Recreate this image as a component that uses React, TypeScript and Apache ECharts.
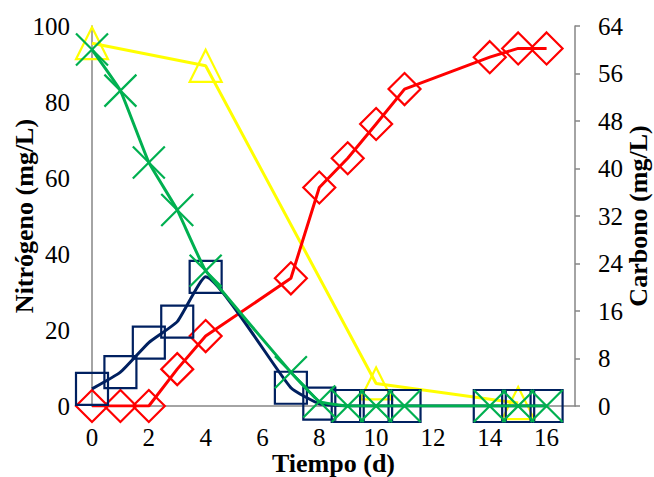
import React, { useEffect, useRef } from "react";
import * as echarts from "echarts";

// Sampling days
const diasN = [0, 1, 2, 3, 4, 7, 8, 9, 10, 11, 14, 15, 16];
const diasC = [0, 4, 10, 15];

// Nitrogen species (mg/L, left axis)
const nitrato = [0, 0, 0, 9.7, 18.4, 33.6, 57.5, 65.2, 74.2, 83.4, 91.8, 94.1, 94.1];
const nitrito = [4.5, 8.9, 16.7, 22.2, 34.0, 4.8, 0.6, 0, 0, 0, 0, 0, 0];
const amonio = [93.8, 83.0, 64.1, 51.6, 35.6, 8.9, 1.2, 0, 0, 0, 0, 0, 0];

// Carbon (mg/L, right axis)
const carbono = [61.1, 57.3, 3.8, 0.5];

const FONT = "'Liberation Serif', 'Times New Roman', serif";
const AXIS_GRAY = "#868686";

const pairs = (xs: number[], ys: number[]) => xs.map((x, i) => [x, ys[i]]);

const X_SYMBOL = "path://M0,0L10,10M10,0L0,10";

export default function App() {
  const ref = useRef<HTMLDivElement>(null);

  useEffect(() => {
    if (!ref.current) return;
    const chart = echarts.init(ref.current, null, { renderer: "svg" });

    const tickLabel = { fontFamily: FONT, fontSize: 25, color: "#000" };
    const nameStyle = { fontFamily: FONT, fontSize: 26, fontWeight: "bold", color: "#000" };

    const lineSeries = (
      name: string,
      data: number[][],
      color: string,
      symbol: string,
      yAxisIndex: number,
      smooth: number | boolean,
      z: number
    ) => ({
      name,
      type: "line",
      yAxisIndex,
      data,
      smooth,
      symbol,
      symbolSize: 32,
      showAllSymbol: true,
      z,
      lineStyle: { color, width: 3 },
      itemStyle: { color: "none", borderColor: color, borderWidth: 2.2 },
      emphasis: { disabled: true },
    });

    chart.setOption({
      animation: false,
      grid: {
        left: 92,
        right: 79,
        top: 26,
        bottom: 71,
        containLabel: false,
        outerBoundsMode: "none",
      },
      xAxis: {
        type: "value",
        min: 0,
        max: 17,
        interval: 2,
        name: "Tiempo (d)",
        nameLocation: "middle",
        nameGap: 44,
        nameMoveOverlap: false,
        nameTextStyle: nameStyle,
        axisLine: { show: true, onZero: false, lineStyle: { color: AXIS_GRAY, width: 1.5 } },
        axisTick: { show: false },
        splitLine: { show: false },
        axisLabel: {
          ...tickLabel,
          margin: 19,
          formatter: (v: number) => (v > 16 ? "" : String(v)),
        },
      },
      yAxis: [
        {
          type: "value",
          min: 0,
          max: 100,
          interval: 20,
          position: "left",
          name: "Nitrógeno (mg/L)",
          nameLocation: "middle",
          nameGap: 55,
          nameRotate: 90,
          nameMoveOverlap: false,
          nameTextStyle: nameStyle,
          axisLine: { show: true, onZero: false, lineStyle: { color: AXIS_GRAY, width: 1.5 } },
          axisTick: { show: false },
          splitLine: { show: false },
          axisLabel: { ...tickLabel, margin: 22 },
        },
        {
          type: "value",
          min: 0,
          max: 64,
          interval: 8,
          position: "right",
          name: "Carbono (mg/L)",
          nameLocation: "middle",
          nameGap: 50,
          nameRotate: 90,
          nameMoveOverlap: false,
          nameTextStyle: nameStyle,
          axisLine: { show: true, onZero: false, lineStyle: { color: AXIS_GRAY, width: 1.5 } },
          axisTick: { show: true, length: 5, lineStyle: { color: AXIS_GRAY, width: 1.5 } },
          splitLine: { show: false },
          axisLabel: { ...tickLabel, margin: 23 },
        },
      ],
      series: [
        lineSeries("Carbono", pairs(diasC, carbono), "#FFFF00", "triangle", 1, false, 2),
        lineSeries("Nitrato", pairs(diasN, nitrato), "#FF0000", "diamond", 0, false, 3),
        lineSeries("Nitrito", pairs(diasN, nitrito), "#002060", "rect", 0, 0.15, 4),
        lineSeries("Amonio", pairs(diasN, amonio), "#00B050", X_SYMBOL, 0, 0.1, 5),
      ],
    });

    return () => chart.dispose();
  }, []);

  return <div ref={ref} style={{ width: 654, height: 477, position: "absolute", left: 0, top: 0 }} />;
}
